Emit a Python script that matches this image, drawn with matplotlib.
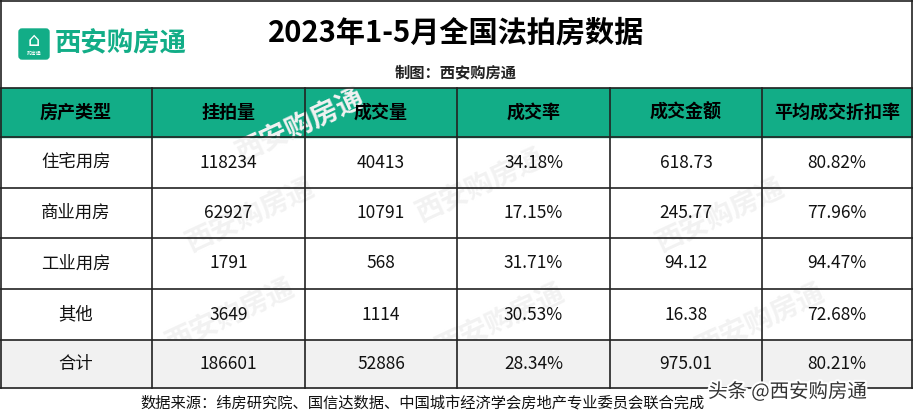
import matplotlib
matplotlib.use("Agg")
import matplotlib.pyplot as plt
from matplotlib.patches import Rectangle, FancyBboxPatch
import matplotlib.patheffects as pe

plt.rcParams['font.family'] = ['Noto Sans CJK SC', 'DejaVu Sans']

title = "2023年1-5月全国法拍房数据"
subtitle = "制图：西安购房通"
headers = ["房产类型", "挂拍量", "成交量", "成交率", "成交金额", "平均成交折扣率"]
categories = ["住宅用房", "商业用房", "工业用房", "其他", "合计"]
listed = ["118234", "62927", "1791", "3649", "186601"]
sold = ["40413", "10791", "568", "1114", "52886"]
rate = ["34.18%", "17.15%", "31.71%", "30.53%", "28.34%"]
amount = ["618.73", "245.77", "94.12", "16.38", "975.01"]
discount = ["80.82%", "77.96%", "94.47%", "72.68%", "80.21%"]
source = "数据来源：纬房研究院、国信达数据、中国城市经济学会房地产专业委员会联合完成"

W, H = 913, 418
fig = plt.figure(figsize=(W/100, H/100), dpi=100)
ax = fig.add_axes([0, 0, 1, 1])
ax.set_xlim(0, W); ax.set_ylim(H, 0); ax.axis('off')

green = '#12ad87'
cols = [0, 152, 305, 457, 610, 762, 912]
rows = [88, 137, 188, 238, 289, 340, 388]

ax.add_patch(Rectangle((0, rows[0]), W, rows[1]-rows[0], color=green, zorder=1))
ax.add_patch(Rectangle((0, rows[5]), W, rows[6]-rows[5], color='#f1f1f1', zorder=1))

for (x, y) in [(300, 125), (250, 215), (480, 185), (720, 215), (230, 315), (500, 320), (760, 320)]:
    ax.text(x, y, "西安购房通", fontsize=20, color='#f2f2f2', rotation=25,
            ha='center', va='center', fontweight='bold', zorder=2)

for y in [0.5, rows[0]] + rows[1:]:
    ax.plot([0, W], [y, y], color='#222222', lw=1.2, zorder=5)
for x in cols:
    xx = min(max(x, 0.6), W-0.6)
    if x in (0, 912):
        ax.plot([xx, xx], [0, rows[6]], color='#222222', lw=1.2, zorder=5)
    else:
        ax.plot([xx, xx], [rows[0], rows[6]], color='#222222', lw=1.2, zorder=5)

ax.add_patch(FancyBboxPatch((22, 32), 24, 24, boxstyle="round,pad=3", color=green, zorder=3))
ax.text(34, 41, "⌂", fontsize=14, color='white', ha='center', va='center', zorder=4, family='DejaVu Sans')
ax.text(34, 53, "购房通", fontsize=3.5, color='white', ha='center', va='center', zorder=4)
ax.text(55, 44, "西安购房通", fontsize=19, color=green, ha='left', va='center', fontweight='bold', zorder=4)

ax.text(456, 33, title, fontsize=21, fontweight='bold', ha='center', va='center', zorder=4)
ax.text(456, 72, subtitle, fontsize=11, fontweight='bold', ha='center', va='center', zorder=4, color='#222222')

centers = [(cols[i]+cols[i+1])/2 for i in range(6)]
for i, h in enumerate(headers):
    ax.text(centers[i], (rows[0]+rows[1])/2, h, fontsize=13, fontweight='bold',
            ha='center', va='center', zorder=6)
data = list(zip(categories, listed, sold, rate, amount, discount))
for r, vals in enumerate(data):
    yc = (rows[r+1]+rows[r+2])/2
    for i, v in enumerate(vals):
        ax.text(centers[i], yc, v, fontsize=12.5, ha='center', va='center', zorder=6, color='#111111')

ax.text(140, 403, source, fontsize=11, ha='left', va='center', zorder=6, color='#111111')
ax.text(708, 392, "头条 @西安购房通", fontsize=14, ha='left', va='center', zorder=7, color='#333333',
        path_effects=[pe.withStroke(linewidth=3, foreground='white')])

fig.savefig("out.png", dpi=100)
